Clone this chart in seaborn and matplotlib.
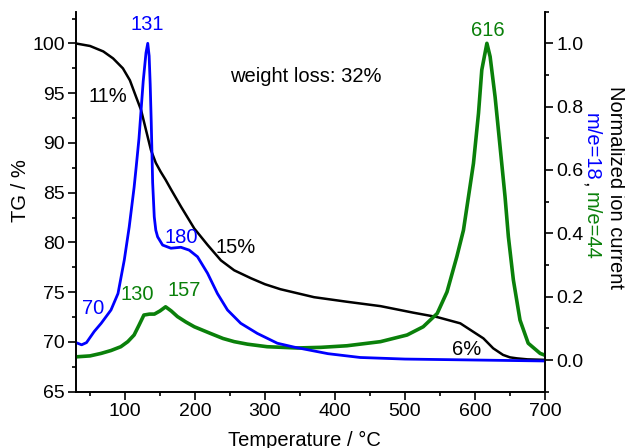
import numpy as np
import pandas as pd
import matplotlib
matplotlib.use("Agg")
import matplotlib.pyplot as plt
import seaborn as sns
from matplotlib.ticker import MultipleLocator, FormatStrFormatter

# ---- data ----
tg_temp = [30, 50, 69, 83, 97, 107, 116, 123, 130, 137, 144, 151, 158, 166, 180, 199, 218,
           237, 256, 265, 280, 300, 322, 340, 370, 417, 465, 512, 546, 579, 598, 612, 626,
           640, 650, 660, 675, 700]
tg_value = [100.0, 99.75, 99.2, 98.5, 97.5, 96.3, 94.6, 93.3, 91.3, 89.3, 88.0, 87.1, 86.3,
            85.3, 83.6, 81.4, 79.75, 78.2, 77.2, 76.9, 76.4, 75.8, 75.3, 75.0, 74.5, 74.04,
            73.6, 72.94, 72.5, 71.87, 71.0, 70.36, 69.36, 68.7, 68.45, 68.35, 68.25, 68.2]

h2o_temp = [30, 38, 45, 56, 66, 80, 90, 99, 106, 113, 116, 120, 123, 126, 130, 132.5, 134.5,
            136, 137.5, 139.5, 141.8, 144, 146.6, 153.7, 165.6, 179.8, 191.7, 203.6, 217.9,
            232, 246.4, 265.3, 289, 317.6, 341, 390, 436, 500, 600, 700]
h2o_value = [0.055, 0.048, 0.055, 0.09, 0.116, 0.158, 0.21, 0.316, 0.42, 0.545, 0.61, 0.70,
             0.79, 0.88, 0.97, 1.0, 0.96, 0.87, 0.75, 0.56, 0.452, 0.41, 0.389, 0.363, 0.353,
             0.356, 0.347, 0.326, 0.274, 0.21, 0.158, 0.116, 0.084, 0.053, 0.041, 0.02,
             0.008, 0.003, 0.0, -0.003]

co2_temp = [30, 50, 66, 80, 94, 104, 113, 120, 127, 135, 142, 150, 158, 166, 175, 187, 199,
            222, 240, 256, 275, 303, 346, 380, 417, 465, 503, 526, 546, 560, 574, 583.5,
            590.7, 597.8, 605, 609.7, 617, 621.6, 628.7, 635.8, 642.9, 647.7, 654.8, 664.3,
            676, 693, 700]
co2_value = [0.01, 0.013, 0.021, 0.03, 0.042, 0.058, 0.079, 0.11, 0.142, 0.145, 0.145, 0.155,
             0.168, 0.155, 0.137, 0.12, 0.105, 0.084, 0.068, 0.058, 0.05, 0.042, 0.038, 0.04,
             0.045, 0.058, 0.079, 0.105, 0.147, 0.215, 0.326, 0.41, 0.516, 0.621, 0.779,
             0.916, 1.0, 0.958, 0.831, 0.674, 0.516, 0.389, 0.253, 0.126, 0.053, 0.021, 0.015]

tg_df = pd.DataFrame({"T": tg_temp, "TG": tg_value})
h2o_df = pd.DataFrame({"T": h2o_temp, "I": h2o_value})
co2_df = pd.DataFrame({"T": co2_temp, "I": co2_value})

sns.set_style("ticks")
plt.rcParams['font.family'] = ['Liberation Sans', 'DejaVu Sans']
for k in ['text.color', 'axes.labelcolor', 'xtick.color', 'ytick.color', 'axes.edgecolor']:
    plt.rcParams[k] = 'black'

BLUE = "#0000ff"
GREEN = "#0a800a"
FS = 14.5
TFS = 14

fig = plt.figure(figsize=(6.25, 4.48), dpi=100)
ax = fig.add_axes([0.1216, 0.1257, 0.7504, 0.8483])
ax2 = ax.twinx()

sns.lineplot(data=tg_df, x="T", y="TG", ax=ax, color="black", lw=1.8, zorder=3)
sns.lineplot(data=h2o_df, x="T", y="I", ax=ax2, color=BLUE, lw=2.0, zorder=2)
sns.lineplot(data=co2_df, x="T", y="I", ax=ax2, color=GREEN, lw=2.6, zorder=1)

ax.set_xlim(30, 700)
ax.set_ylim(65, 103.2)
ax2.set_ylim(-0.1, 1.1)

ax.xaxis.set_major_locator(MultipleLocator(100))
ax.xaxis.set_minor_locator(MultipleLocator(50))
ax.yaxis.set_major_locator(MultipleLocator(5))
ax.yaxis.set_minor_locator(MultipleLocator(2.5))
ax2.yaxis.set_major_locator(MultipleLocator(0.2))
ax2.yaxis.set_minor_locator(MultipleLocator(0.1))
ax2.yaxis.set_major_formatter(FormatStrFormatter("%.1f"))

for a in (ax, ax2):
    a.spines['top'].set_visible(False)
    for s in a.spines.values():
        s.set_linewidth(1.2)
        s.set_color('black')
    a.tick_params(which='major', direction='out', length=5.5, width=1.2, labelsize=TFS,
                  pad=2.5, colors='black')
    a.tick_params(which='minor', direction='out', length=3, width=1.2, colors='black')
    a.set_xlabel("")
    a.set_ylabel("")


def tg_to_right(v):
    return (v - 68.33) / 31.67


# annotations
ax2.text(132, 1.058, "131", color=BLUE, fontsize=FS, ha='center', va='center')
ax2.text(180, 0.387, "180", color=BLUE, fontsize=FS, ha='center', va='center')
ax2.text(55, 0.163, "70", color=BLUE, fontsize=FS, ha='center', va='center')
ax2.text(117, 0.208, "130", color=GREEN, fontsize=FS, ha='center', va='center')
ax2.text(184, 0.221, "157", color=GREEN, fontsize=FS, ha='center', va='center')
ax2.text(618, 1.04, "616", color=GREEN, fontsize=FS, ha='center', va='center')
ax2.text(76, tg_to_right(94.7), "11%", color="black", fontsize=FS, ha='center', va='center')
ax2.text(258, tg_to_right(79.6), "15%", color="black", fontsize=FS, ha='center', va='center')
ax2.text(588, tg_to_right(69.4), "6%", color="black", fontsize=FS, ha='center', va='center')
ax2.text(358, tg_to_right(96.7), "weight loss: 32%", color="black", fontsize=FS,
         ha='center', va='center')

W, H = 625, 448
fig.text(21 / W, 1 - 191 / H, "TG / %", rotation=90, fontsize=FS, ha='center', va='center')
fig.text(304 / W, 1 - 440 / H, "Temperature / \u00b0C", fontsize=FS, ha='center', va='center')
fig.text(615 / W, 1 - 187 / H, "Normalized ion current", rotation=270, fontsize=FS,
         ha='center', va='center')

fig.canvas.draw()
renderer = fig.canvas.get_renderer()
y = 1 - 113 / H
for s, c in [("m/e=18", BLUE), (", ", "black"), ("m/e=44", GREEN)]:
    t = fig.text(586 / W, y, s, rotation=270, rotation_mode='anchor', color=c,
                 fontsize=FS, ha='left', va='baseline')
    bb = t.get_window_extent(renderer)
    y = bb.y0 / fig.bbox.height

fig.savefig("out.png", dpi=100)
